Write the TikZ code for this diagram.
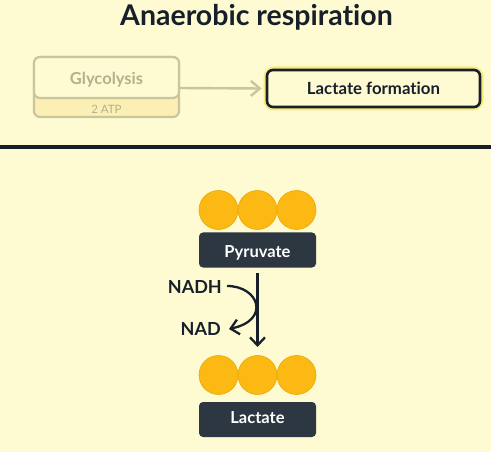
\documentclass[tikz,border=0pt]{standalone}
\usepackage{fontspec}
\setmainfont{Lato}[Ligatures={NoCommon}]
\usetikzlibrary{arrows.meta}
\definecolor{bg}{HTML}{FEFBD2}
\definecolor{faded}{HTML}{C9C59C}
\definecolor{fadedtext}{HTML}{B3B08E}
\definecolor{fadedfill}{HTML}{FBEFB4}
\definecolor{ink}{HTML}{17202A}
\definecolor{gold}{HTML}{FDB913}
\definecolor{goldedge}{HTML}{E9A800}
\definecolor{slate}{HTML}{2D3741}
\definecolor{glow}{HTML}{F5E96A}
\tikzset{
  x=1pt,y=-1pt,
  atom/.style={circle,fill=gold,draw=goldedge,line width=0.6pt,minimum size=39pt,inner sep=0pt},
  molbox/.style={rectangle,rounded corners=4pt,fill=slate,minimum width=117pt,minimum height=35pt},
  moltext/.style={anchor=base,text=white,font=\fontsize{16.5}{18}\selectfont\bfseries},
  chemlabel/.style={anchor=base east,font=\fontsize{18}{20}\selectfont\bfseries,text=ink,inner sep=0pt},
  rxn/.style={draw=ink,line width=2.3pt,-{Straight Barb[length=8pt,width=15pt,line width=2.3pt]}},
}
\begin{document}
\begin{tikzpicture}
\fill[bg] (0,0) rectangle (491,452);
\useasboundingbox (0,0) rectangle (491,452);
% separator
\fill[ink] (0,145) rectangle (491,149);
% title
\node[anchor=base,font=\fontsize{28.5}{32}\selectfont\bfseries,text=ink] (title) at (256.5,26) {Anaerobic respiration};
% glycolysis box
\draw[faded,line width=2.2pt,fill=fadedfill,rounded corners=6pt] (34,57) rectangle (179,117);
\draw[faded,line width=2.2pt,fill=bg,rounded corners=6pt] (34,57) rectangle (179,98);
\node[anchor=base,font=\fontsize{16.5}{18}\selectfont\bfseries,text=fadedtext] (glyc) at (106.5,84.3) {Glycolysis};
\node[anchor=base,font=\fontsize{11.5}{13}\selectfont,text=fadedtext] (atp) at (106.5,113.3) {2 ATP};
\coordinate (glycR) at (179,88);
% lactate formation box
\draw[glow,line width=7pt,opacity=0.8,rounded corners=7pt] (267,70) rectangle (480,107);
\node[draw=ink,line width=2.6pt,fill=bg,rounded corners=6pt,minimum width=213pt,minimum height=37pt] (lf) at (373.5,88.5) {};
\node[anchor=base,font=\fontsize{16.8}{18}\selectfont\bfseries,text=ink] (lft) at (373.5,95) {Lactate formation};
\draw[faded,line width=2.4pt,-{Straight Barb[length=9pt,width=15pt,line width=2.4pt]}] (glycR) -- ([xshift=-4pt]lf.west);
% pyruvate
\node[atom] (p1) at (218.5,210) {};
\node[atom] (p2) at (257.5,210) {};
\node[atom] (p3) at (296.5,210) {};
\node[molbox] (pyr) at (257.5,250) {};
\node[moltext] (pyrt) at (257.5,257.3) {Pyruvate};
% lactate
\node[atom] (l1) at (218.5,375) {};
\node[atom] (l2) at (257.5,375) {};
\node[atom] (l3) at (296.5,375) {};
\node[molbox] (lac) at (257.5,419.5) {};
\node[moltext] (lact) at (257.5,423.3) {Lactate};
% reaction arrow
\coordinate (top) at (257.5,273);
\coordinate (bot) at (257.5,347);
\draw[rxn] (top) -- (bot);
\node[chemlabel] (nadh) at (222,293) {NADH};
\node[chemlabel] (nad) at (221,335) {NAD};
\coordinate (cs) at (227,286);
\coordinate (ce) at (229,329);
\draw[rxn] (cs) .. controls (259,286) and (271,320) .. (ce);
\end{tikzpicture}
\end{document}
